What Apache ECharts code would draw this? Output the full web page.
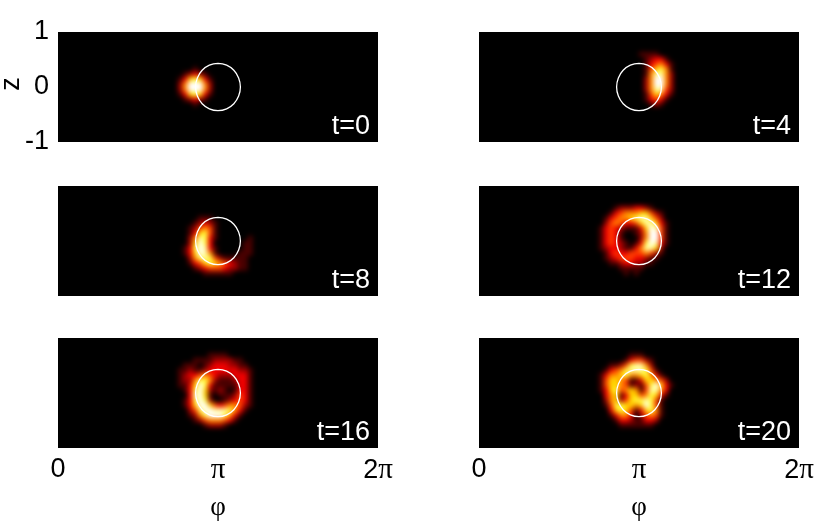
<!DOCTYPE html>
<html>
<head>
<meta charset="utf-8">
<title>Density panels</title>
<script src="https://cdn.jsdelivr.net/npm/echarts@6/dist/echarts.min.js"></script>
<style>
  html, body { margin: 0; padding: 0; background: #fff; }
  #clip, #overlay { position: absolute; left: 0; top: 0; width: 830px; height: 528px; }
  /* Black panels only, the blurred cells stay inside them. */
  #clip {
    background: #000;
    clip-path: path("M58 32h320v110h-320z M479 32h320v110h-320z M58 186h320v110h-320z M479 186h320v110h-320z M58 338h320v110h-320z M479 338h320v110h-320z");
  }
  #cells { width: 830px; height: 528px; filter: blur(2.6px); }
</style>
</head>
<body>
<div id="clip"><div id="cells"></div></div>
<div id="overlay"></div>
<script>
// Density levels 0-9. Each string is one row of the
// 20 x 20 window around the centre of a panel, top row first.
var densityT0 = [
  '00000000000000000000', '00000000000000000000', '00000000000000000000', '00000000000000000000',
  '00000000000000000000', '00000000000000000000',
  '00000100000000000000',
  '00012321000000000000',
  '00136763100000000000',
  '00259995200000000000',
  '00259995200000000000',
  '00136763100000000000',
  '00012321000000000000',
  '00000100000000000000',
  '00000000000000000000', '00000000000000000000', '00000000000000000000',
  '00000000000000000000', '00000000000000000000', '00000000000000000000'
];
var densityT4 = [
  '00000000000000000000', '00000000000000000000', '00000000000000000000',
  '00000000001111000000',
  '00000000000123310000',
  '00000000000134531000',
  '00000000000146751000',
  '00000000000158852000',
  '00000000000259952000',
  '00000000000259952000',
  '00000000000258842000',
  '00000000000146531000',
  '00000000000134310000',
  '00000000000012100000',
  '00000000000000000000', '00000000000000000000', '00000000000000000000',
  '00000000000000000000', '00000000000000000000', '00000000000000000000'
];
var densityT8 = [
  '00000000000000000000', '00000000000000000000', '00000000000000000000', '00000000000000000000',
  '00000000000000000000',
  '00000011100000000000',
  '00000123210000000000',
  '00001245410000000000',
  '00001367410000000000',
  '00002587310000001000',
  '00002697300000011000',
  '00013798310000011000',
  '00013698510000111000',
  '00002578742111110000',
  '00001346765432110000',
  '00000123444322110000',
  '00000001111110000000',
  '00000000000000000000', '00000000000000000000', '00000000000000000000'
];
var densityT12 = [
  '00000000000000000000', '00000000000000000000', '00000000000000000000',
  '00000122233210000000',
  '00001345556642100000',
  '00013455678864200000',
  '00024543346886310000',
  '00134321113698410000',
  '00134310012599410000',
  '00134310002599410000',
  '00134321013798310000',
  '00123321135886200000',
  '00013433444542100000',
  '00012344433211000000',
  '00001123322110000000',
  '00000011111000000000',
  '00000001010000000000',
  '00000000000000000000', '00000000000000000000', '00000000000000000000'
];
var densityT16 = [
  '00000000000000000000', '00000000000000000000',
  '00000000111100000000',
  '00000111122221100000',
  '00011101233322110000',
  '00112112333333221000',
  '00123345432223331000',
  '00122577521112331000',
  '00113697311111331000',
  '00013796212101331000',
  '00003896101112431000',
  '00013797200123431000',
  '00013699643455421000',
  '00002479988875310000',
  '00001257999753100000',
  '00000124555431000000',
  '00000001222100000000',
  '00000000000000000000', '00000000000000000000', '00000000000000000000'
];
var densityT20 = [
  '00000000000000000000', '00000000000000000000',
  '00000000111000000000',
  '00000001344210000000',
  '00001124788520000000',
  '00013457888741000000',
  '00135567556753100000',
  '00146654113665420000',
  '00146654121479631000',
  '00136745651488530000',
  '00035613664576310000',
  '00025624677874100000',
  '00014776656974100000',
  '00003676413675100000',
  '00001355302454100000',
  '00000133211332000000',
  '00000011111110000000',
  '00000000000000000000', '00000000000000000000', '00000000000000000000'
];

// White closed curve, [phi / pi, z].
var curvePoints = [
  [1.00, 0.43], [1.054, 0.397], [1.099, 0.304], [1.129, 0.165], [1.14, 0.00],
  [1.129, -0.165], [1.099, -0.304], [1.054, -0.397], [1.00, -0.43],
  [0.946, -0.397], [0.901, -0.304], [0.871, -0.165], [0.86, 0.00],
  [0.871, 0.165], [0.901, 0.304], [0.946, 0.397], [1.00, 0.43]
];

var panelDensity = [densityT0, densityT4, densityT8, densityT12, densityT16, densityT20];
var panelTitles = ['t=0', 't=4', 't=8', 't=12', 't=16', 't=20'];
var phiTickLabels = ['0', '{p|π}', '2{p|π}'];
var zTickLabels = ['-1', '0', '1'];

var panelLefts = [58, 479];
var panelTops = [32, 186, 338];
var panelWidth = 320;
var panelHeight = 110;
var columnCount = 64;
var rowCount = 22;
var firstColumn = 22;
var firstRow = 1;
var hotColors = ['#000000', '#4a0000', '#a00000', '#f00000', '#ff4000', '#ff8c00', '#ffd500', '#ffff40', '#ffffa0', '#ffffff'];

var labelFont = 'Liberation Sans';
var greekFont = 'Liberation Serif';
var labelSize = 27;

function numberList(n) {
  var list = [];
  for (var i = 0; i < n; i++) {
    list.push(i);
  }
  return list;
}

function densityCells(rows) {
  var cells = [];
  rows.forEach(function (row, r) {
    row.split('').forEach(function (level, c) {
      cells.push([firstColumn + c, firstRow + r, Number(level)]);
    });
  });
  return cells;
}

function panelGrid(index) {
  return {
    left: panelLefts[index % 2],
    top: panelTops[Math.floor(index / 2)],
    width: panelWidth,
    height: panelHeight,
    outerBoundsMode: 'none'
  };
}

// Heatmap layer, blurred through the css above.
var cellsOption = {
  animation: false,
  grid: [],
  xAxis: [],
  yAxis: [],
  visualMap: { show: false, min: 0, max: 9, inRange: { color: hotColors } },
  series: []
};
panelDensity.forEach(function (rows, i) {
  cellsOption.grid.push(panelGrid(i));
  cellsOption.xAxis.push({ type: 'category', gridIndex: i, show: false, data: numberList(columnCount) });
  cellsOption.yAxis.push({ type: 'category', gridIndex: i, show: false, inverse: true, data: numberList(rowCount) });
  cellsOption.series.push({
    type: 'heatmap',
    xAxisIndex: i,
    yAxisIndex: i,
    progressive: 0,
    silent: true,
    data: densityCells(rows)
  });
});
echarts.init(document.getElementById('cells')).setOption(cellsOption);

// Axes, curves and panel titles on top.
var richGreek = { p: { fontFamily: greekFont, fontSize: labelSize + 2, color: '#000' } };
var overlayOption = {
  animation: false,
  grid: [],
  xAxis: [],
  yAxis: [],
  graphic: [],
  series: []
};
panelTitles.forEach(function (title, i) {
  var grid = panelGrid(i);
  var isBottom = i >= 4;
  var isFirst = i === 0;
  overlayOption.grid.push(grid);
  overlayOption.xAxis.push({
    type: 'value',
    gridIndex: i,
    min: 0,
    max: 2,
    interval: 1,
    name: isBottom ? 'φ' : '',
    nameLocation: 'middle',
    nameGap: 46,
    nameTextStyle: { fontFamily: greekFont, fontSize: labelSize, color: '#000' },
    axisLine: { show: false },
    axisTick: { show: false },
    splitLine: { show: false },
    axisLabel: {
      show: isBottom,
      margin: 8,
      fontFamily: labelFont,
      fontSize: labelSize,
      color: '#000',
      rich: richGreek,
      formatter: function (value) { return phiTickLabels[value]; }
    }
  });
  overlayOption.yAxis.push({
    type: 'value',
    gridIndex: i,
    min: -1,
    max: 1,
    interval: 1,
    name: isFirst ? 'z' : '',
    nameLocation: 'middle',
    nameMoveOverlap: false,
    nameGap: 33,
    nameTextStyle: { fontFamily: labelFont, fontSize: labelSize, color: '#000', padding: [0, 0, 0, 6] },
    axisLine: { show: false },
    axisTick: { show: false },
    splitLine: { show: false },
    axisLabel: {
      show: isFirst,
      margin: 9,
      padding: [0, 0, 6, 0],
      fontFamily: labelFont,
      fontSize: labelSize,
      color: '#000',
      formatter: function (value) { return zTickLabels[value + 1]; }
    }
  });
  overlayOption.series.push({
    type: 'line',
    xAxisIndex: i,
    yAxisIndex: i,
    data: curvePoints,
    smooth: true,
    showSymbol: false,
    silent: true,
    lineStyle: { color: '#fff', width: 1.3 }
  });
  overlayOption.graphic.push({
    type: 'text',
    x: grid.left + panelWidth - 8,
    y: grid.top + panelHeight - 2,
    silent: true,
    style: {
      text: title,
      align: 'right',
      verticalAlign: 'bottom',
      fill: '#fff',
      font: labelSize + 'px "' + labelFont + '"'
    }
  });
});
echarts.init(document.getElementById('overlay')).setOption(overlayOption);
</script>
</body>
</html>
